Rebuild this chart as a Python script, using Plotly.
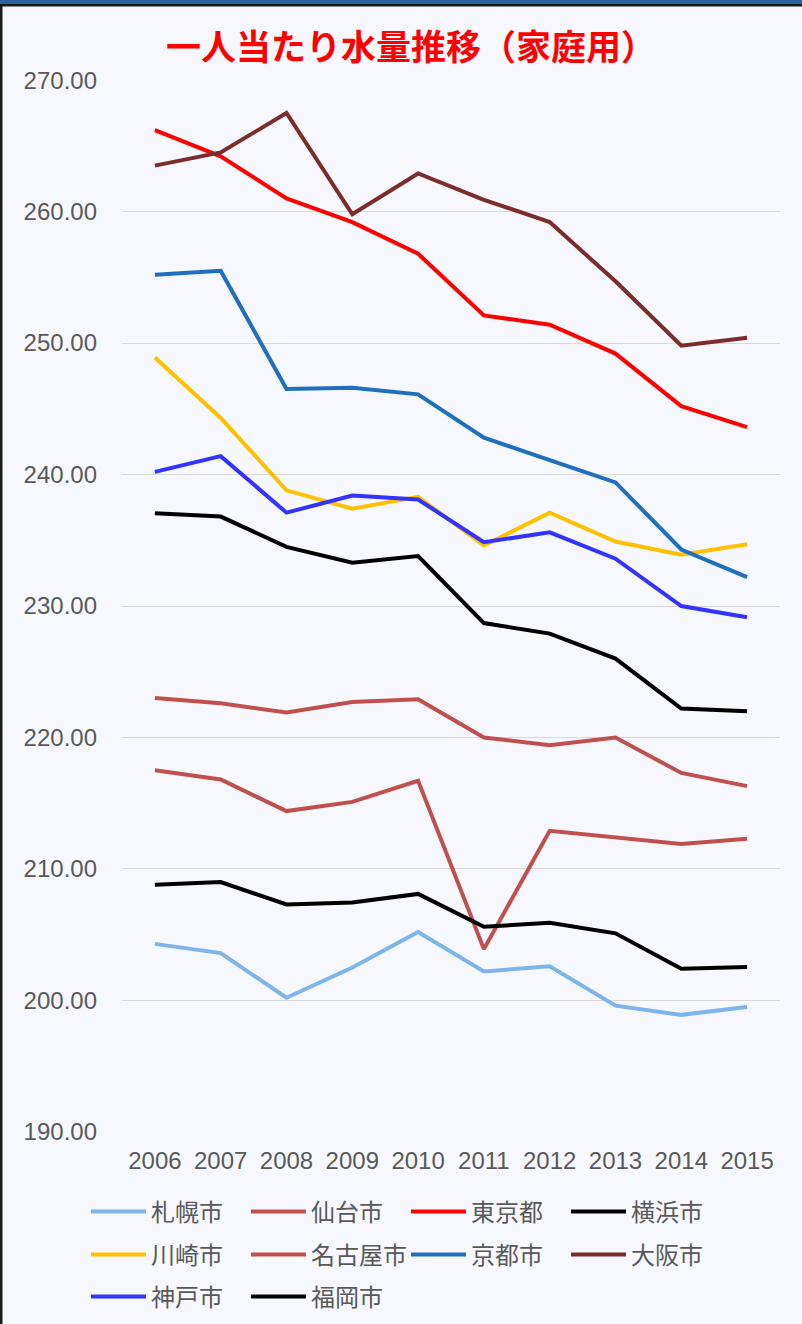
import plotly.graph_objects as go

years = ["2006", "2007", "2008", "2009", "2010", "2011", "2012", "2013", "2014", "2015"]

sapporo = [204.3, 203.6, 200.2, 202.5, 205.2, 202.2, 202.6, 199.6, 198.9, 199.5]
sendai = [217.5, 216.8, 214.4, 215.1, 216.7, 203.9, 212.9, 212.4, 211.9, 212.3]
tokyo = [266.2, 264.2, 261.0, 259.2, 256.8, 252.1, 251.4, 249.2, 245.2, 243.6]
yokohama = [237.05, 236.8, 234.5, 233.3, 233.8, 228.7, 227.9, 226.0, 222.2, 222.0]
kawasaki = [248.9, 244.3, 238.8, 237.4, 238.3, 234.6, 237.1, 234.9, 233.9, 234.7]
nagoya = [223.0, 222.6, 221.9, 222.7, 222.9, 220.0, 219.4, 220.0, 217.3, 216.3]
kyoto = [255.2, 255.5, 246.5, 246.6, 246.1, 242.8, 241.1, 239.4, 234.3, 232.2]
osaka = [263.5, 264.5, 267.5, 259.8, 262.9, 260.9, 259.2, 254.7, 249.8, 250.4]
kobe = [240.2, 241.4, 237.1, 238.4, 238.1, 234.85, 235.6, 233.6, 230.0, 229.15]
fukuoka = [208.8, 209.0, 207.3, 207.45, 208.1, 205.6, 205.9, 205.1, 202.4, 202.55]

names = ["札幌市", "仙台市", "東京都", "横浜市", "川崎市", "名古屋市", "京都市", "大阪市", "神戸市", "福岡市"]
series = [sapporo, sendai, tokyo, yokohama, kawasaki, nagoya, kyoto, osaka, kobe, fukuoka]
colors = ["#7cb4ec", "#c0504d", "#ff0000", "#000000", "#ffc000",
          "#c0504d", "#1f6fbf", "#7b2c2b", "#3333ff", "#000000"]
legend_ids = ["legend", "legend", "legend", "legend",
              "legend2", "legend2", "legend2", "legend2",
              "legend3", "legend3"]

title_text = "一人当たり水量推移（家庭用）"

W, H = 802, 1324
L, R, T, B = 122, 22, 80, 192
pw, ph = W - L - R, H - T - B


def px_x(p):
    return (p - L) / pw


def px_y(p):
    return (H - B - p) / ph


fig = go.Figure()
for name, vals, col, lg in zip(names, series, colors, legend_ids):
    fig.add_trace(go.Scatter(
        x=years, y=vals, name=name, mode="lines",
        line=dict(color=col, width=4),
        legend=lg,
    ))

tick_font = dict(family="Liberation Sans, Arial, sans-serif", size=24, color="#595959")
leg_font = dict(family="Noto Sans CJK JP, sans-serif", size=24, color="#595959")

legend_common = dict(
    orientation="h", xanchor="left", yanchor="middle",
    xref="container", yref="container",
    font=leg_font, bgcolor="rgba(0,0,0,0)", borderwidth=0,
    entrywidth=90, entrywidthmode="pixels", itemwidth=55,
    traceorder="normal",
)

bg = "#f6f8fe"
fig.update_layout(
    width=W, height=H,
    margin=dict(l=L, r=R, t=T, b=B, autoexpand=False),
    paper_bgcolor=bg, plot_bgcolor=bg,
    title=dict(
        text=title_text,
        font=dict(family="Noto Sans CJK JP, sans-serif", size=35, color="#ff0000", weight="bold"),
        x=0.5 + 10 / W, xref="container", xanchor="center",
        y=1 - 48 / H, yref="container", yanchor="middle",
    ),
    xaxis=dict(
        type="category", showgrid=False, zeroline=False, showline=False,
        tickfont=tick_font, ticks="", ticklabelstandoff=12,
        range=[-0.5, 9.5], automargin=False,
    ),
    yaxis=dict(
        range=[189.99, 270.01], dtick=10, tick0=190, tickformat=".2f",
        showgrid=True, gridcolor="#d9d9d9", gridwidth=1,
        zeroline=False, showline=False, tickfont=tick_font, ticks="",
        ticklabelstandoff=24, automargin=False,
    ),
    legend=dict(x=86 / W, y=1 - 1212 / H, **legend_common),
    legend2=dict(x=86 / W, y=1 - 1255 / H, **legend_common),
    legend3=dict(x=86 / W, y=1 - 1297 / H, **legend_common),
    showlegend=True,
    shapes=[
        dict(type="rect", xref="paper", yref="paper",
             x0=px_x(0), x1=px_x(W), y0=px_y(0), y1=px_y(4),
             fillcolor="#2a64a0", line=dict(width=0), layer="above"),
        dict(type="rect", xref="paper", yref="paper",
             x0=px_x(0), x1=px_x(W), y0=px_y(4), y1=px_y(6.5),
             fillcolor="#1a1a1a", line=dict(width=0), layer="above"),
        dict(type="rect", xref="paper", yref="paper",
             x0=px_x(0), x1=px_x(2.5), y0=px_y(4), y1=px_y(H),
             fillcolor="#1a1a1a", line=dict(width=0), layer="above"),
    ],
)

fig.write_html(
    "out.html",
    config={"displayModeBar": False},
    post_script="document.body.style.margin='0';document.body.style.background='#f6f8fe';",
)
